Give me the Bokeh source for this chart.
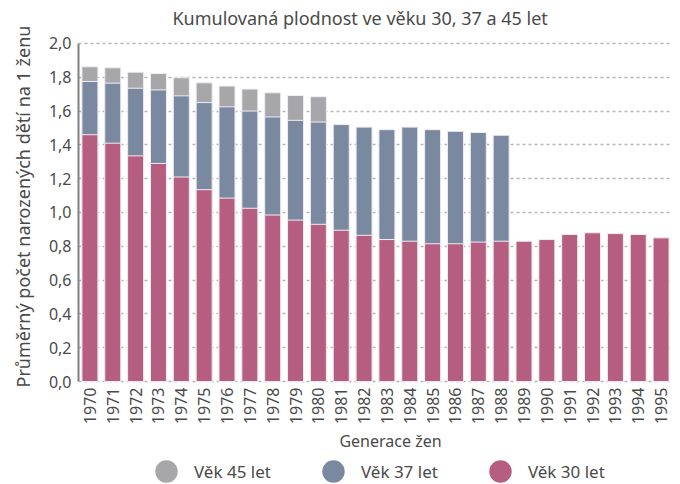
import math
from bokeh.plotting import figure
from bokeh.models import (ColumnDataSource, Legend, LegendItem, FixedTicker, Range1d,
                          CustomJSTickFormatter, Title, Label)
from bokeh.embed import file_html
from bokeh.resources import INLINE

# ---- data ----
years = [str(y) for y in range(1970, 1996)]
years_30 = years
val_30 = [1.46, 1.41, 1.335, 1.29, 1.21, 1.135, 1.085, 1.025, 0.985, 0.955, 0.93,
          0.895, 0.865, 0.84, 0.83, 0.815, 0.815, 0.825, 0.83, 0.83, 0.84,
          0.87, 0.88, 0.875, 0.87, 0.85]
years_37 = [str(y) for y in range(1970, 1989)]
val_37 = [1.775, 1.765, 1.735, 1.725, 1.69, 1.65, 1.625, 1.6, 1.565, 1.545, 1.535,
          1.52, 1.505, 1.49, 1.505, 1.49, 1.48, 1.473, 1.457]
years_45 = [str(y) for y in range(1970, 1981)]
val_45 = [1.862, 1.856, 1.83, 1.822, 1.797, 1.767, 1.748, 1.73, 1.708, 1.692, 1.685]
y_ticks = [0.0, 0.2, 0.4, 0.6, 0.8, 1.0, 1.2, 1.4, 1.6, 1.8, 2.0]

labels = ["Věk 45 let", "Věk 37 let", "Věk 30 let"]
colors = ["#a7a7aa", "#7a899f", "#b65e80"]
title_text = "Kumulovaná plodnost ve věku 30, 37  a 45 let"

FONT = "Noto Sans"
TXT = "#4a4a4a"

# the frame spans the full height; the axis is bounded to 0..2 and the x axis
# sits at 0, so the title, x labels and legend are drawn inside the frame
p = figure(x_range=years, y_range=Range1d(-0.609, 2.254), width=680, height=484,
           output_backend="svg", toolbar_location=None,
           min_border_left=78, min_border_right=8, min_border_top=0, min_border_bottom=0)
p.outline_line_color = None
p.background_fill_color = "white"

src45 = ColumnDataSource(dict(x=years_45, top=val_45))
src37 = ColumnDataSource(dict(x=years_37, top=val_37))
src30 = ColumnDataSource(dict(x=years_30, top=val_30))

leg_r = []
for src, c in zip([src45, src37, src30], colors):
    p.vbar(x="x", top="top", width=0.7, source=src, fill_color=c,
           line_color="#eeeef3", line_width=1)
    # invisible (size 0) markers on the same data, used only for round legend glyphs
    r = p.scatter(x="x", y="top", source=src, marker="circle", size=0,
                  fill_color=c, line_color=None)
    leg_r.append(r)

legend = Legend(items=[LegendItem(label=l, renderers=[r]) for l, r in zip(labels, leg_r)],
                location=(60, -15), orientation="horizontal",
                glyph_width=56, glyph_height=56, label_height=56,
                label_standoff=0, spacing=34,
                padding=0, margin=0, border_line_color=None, background_fill_alpha=0,
                label_text_font=FONT, label_text_font_size="17px", label_text_color=TXT)
p.add_layout(legend)

# title
p.add_layout(Label(x=284, y=467, x_units="screen", y_units="screen", text=title_text,
                   text_align="center", text_baseline="middle",
                   text_font=FONT, text_font_size="18px", text_color=TXT))

# axes
p.yaxis.bounds = (0, 2.0)
p.yaxis.ticker = FixedTicker(ticks=y_ticks)
p.yaxis.formatter = CustomJSTickFormatter(code="return tick.toFixed(1).replace('.', ',');")
p.yaxis.axis_line_color = "#808080"
p.yaxis.axis_line_width = 2
p.yaxis.major_tick_line_color = None
p.yaxis.minor_tick_line_color = None
p.yaxis.major_tick_out = 0
p.yaxis.major_label_standoff = 7

ylab = Title(text="Průměrný počet narozených dětí na 1 ženu", align="left", offset=97,
             vertical_align="top", text_font=FONT, text_font_size="18px",
             text_font_style="normal", text_color=TXT, standoff=17)
p.add_layout(ylab, "left")

p.xaxis.fixed_location = 0
p.xaxis.major_label_orientation = math.pi / 2
p.xaxis.axis_line_color = None
p.xaxis.major_tick_line_color = None
p.xaxis.minor_tick_line_color = None
p.xaxis.major_tick_out = 0
p.xaxis.major_label_standoff = 6

p.add_layout(Label(x=312, y=44, x_units="screen", y_units="screen", text="Generace žen",
                   text_align="center", text_baseline="middle",
                   text_font=FONT, text_font_size="16px", text_color=TXT))

for ax in [p.xaxis[0], p.yaxis[0]]:
    ax.major_label_text_font = FONT
    ax.major_label_text_font_size = "16px"
    ax.major_label_text_color = TXT

p.xgrid.grid_line_color = None
p.ygrid.grid_line_color = "#b4b4b4"
p.ygrid.grid_line_dash = "3 3"
p.ygrid.grid_line_width = 1.3

open("out.html", "w").write(file_html(p, INLINE))
